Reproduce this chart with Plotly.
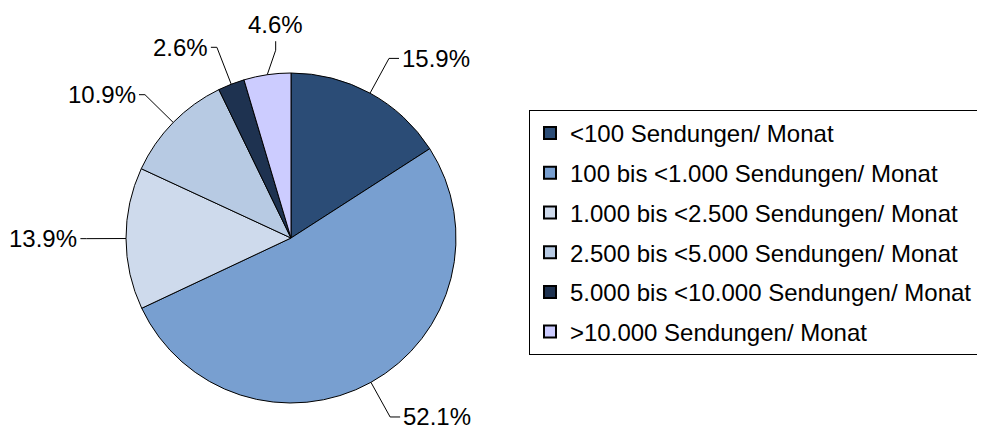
import math
import plotly.graph_objects as go

# ---- data ----
categories = [
    "<100 Sendungen/ Monat",
    "100 bis <1.000 Sendungen/ Monat",
    "1.000 bis <2.500 Sendungen/ Monat",
    "2.500 bis <5.000 Sendungen/ Monat",
    "5.000 bis <10.000 Sendungen/ Monat",
    ">10.000 Sendungen/ Monat",
]
shares = [15.9, 52.1, 13.9, 10.9, 2.6, 4.6]
colors = ["#2B4C76", "#789FD0", "#CEDAEC", "#B7CAE3", "#1E3250", "#CCCCFF"]

# ---- layout constants (page pixels) ----
OFF = 8                      # default body margin of the html page
W, H = 985 - OFF, 430 - OFF  # figure size so that it fills the window
CX, CY, R = 291, 238, 165
FONT = "Liberation Sans, Arial, sans-serif"


def px(x):
    return (x - OFF) / W


def py(y):
    return 1 - (y - OFF) / H


fig = go.Figure()

fig.add_trace(go.Pie(
    labels=categories,
    values=shares,
    sort=False,
    direction="clockwise",
    rotation=0,
    marker=dict(colors=colors, line=dict(color="black", width=1)),
    textinfo="none",
    hoverinfo="label+percent",
    showlegend=False,
    domain=dict(x=[px(CX - R), px(CX + R)], y=[py(CY + R), py(CY - R)]),
))

# legend entries (native legend, one group per category)
for name, col in zip(categories, colors):
    fig.add_trace(go.Scatter(
        x=[None], y=[None], mode="markers", name=name,
        legendgroup=name,
        marker=dict(symbol="square", size=13, color=col,
                    line=dict(color="black", width=1)),
        hoverinfo="skip",
    ))

# outside labels with leader lines, derived from slice angles
total = sum(shares)
shapes = []
annotations = []
cum = 0.0
for v in shares:
    mid = (cum + v / 2) / total * 2 * math.pi
    cum += v
    s, c = math.sin(mid), math.cos(mid)
    ex, ey = CX + R * s, CY - R * c
    if abs(s) < 0.2 and c > 0:
        bx, by = CX + 1.15 * R * s + 12, CY - 1.15 * R * c
        tx, ty = bx, by - 9
        path = f"M {px(ex)},{py(ey)} L {px(bx)},{py(by)} L {px(tx)},{py(ty)}"
        annotations.append(dict(x=px(tx), y=py(ty - 1), xref="paper", yref="paper",
                                text=f"{v:.1f}%", showarrow=False,
                                xanchor="center", yanchor="bottom",
                                font=dict(size=24, family=FONT, color="black")))
    else:
        side = 1 if s > 0 else -1
        seg = 10 if side > 0 else 6
        bx, by = CX + 1.24 * R * s, CY - 1.24 * R * c
        tx, ty = bx + seg * side, by
        path = f"M {px(ex)},{py(ey)} L {px(bx)},{py(by)} L {px(tx)},{py(ty)}"
        annotations.append(dict(x=px(tx + 1 * side), y=py(ty), xref="paper", yref="paper",
                                text=f"{v:.1f}%", showarrow=False,
                                xanchor="left" if side > 0 else "right", yanchor="middle",
                                font=dict(size=24, family=FONT, color="black")))
    shapes.append(dict(type="path", path=path, xref="paper", yref="paper",
                       line=dict(color="black", width=1)))

fig.update_layout(
    width=W, height=H,
    margin=dict(l=0, r=0, t=0, b=0),
    paper_bgcolor="white", plot_bgcolor="white",
    xaxis=dict(visible=False), yaxis=dict(visible=False),
    font=dict(family=FONT, size=24, color="black"),
    shapes=shapes,
    annotations=annotations,
    legend=dict(
        x=px(529), y=py(110), xanchor="left", yanchor="top",
        bordercolor="black", borderwidth=1, bgcolor="white",
        font=dict(size=24, family=FONT, color="black"),
        tracegroupgap=5.5, itemsizing="constant",
    ),
)

fig.write_html("out.html")
